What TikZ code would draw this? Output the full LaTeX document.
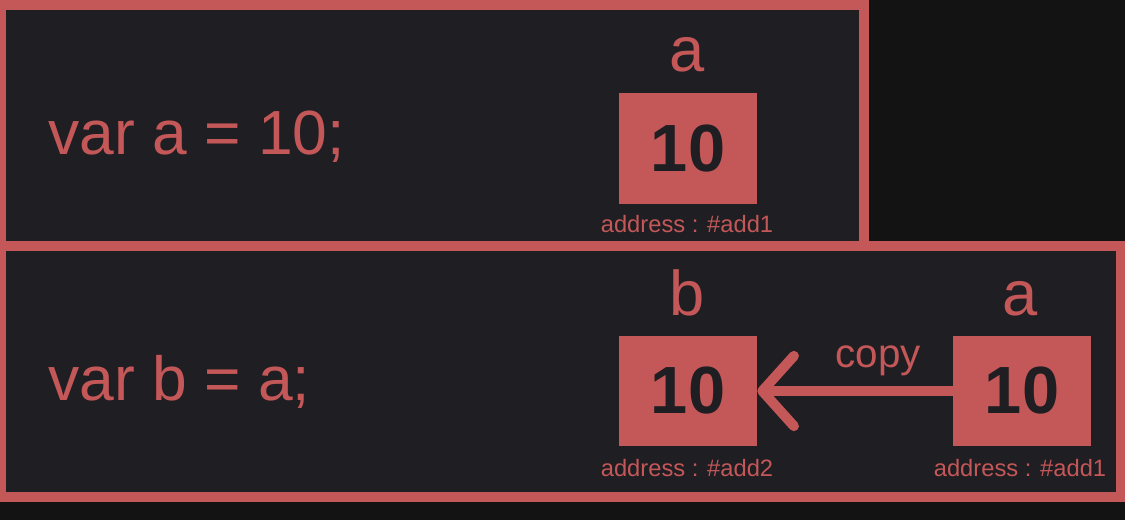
\documentclass[tikz,border=0pt]{standalone}
\usepackage{fontspec}
\setmainfont{Liberation Sans}
\usetikzlibrary{arrows.meta}
\definecolor{memred}{HTML}{C45758}
\definecolor{panelbg}{HTML}{1F1E23}
\definecolor{pagebg}{HTML}{131313}
\tikzset{
  panel/.style={draw=memred, line width=0.19cm, fill=panelbg},
  cell/.style={fill=memred, text=panelbg, minimum width=2.76cm, minimum height=2.22cm, inner sep=0pt, font=\fontsize{38}{40}\selectfont\bfseries},
  code/.style={text=memred, anchor=base west, inner sep=0pt, font=\fontsize{35.5}{40}\selectfont},
  varname/.style={text=memred, anchor=base, inner sep=0pt, font=\fontsize{36}{40}\selectfont},
  addr/.style={text=memred, anchor=base, inner sep=0pt, font=\fontsize{13.5}{15}\selectfont},
}
\begin{document}
\begin{tikzpicture}[x=0.02cm, y=-0.02cm]
\useasboundingbox (0,0) rectangle (1125,520);
\fill[pagebg] (0,0) rectangle (1125,520);
\draw[panel] (1,246) rectangle (1121,497);
\draw[panel] (1,5) rectangle (864,245.5);
% var a
\node[code] (codeA) at (48,155) {var a = 10;};
\node[cell] (cellA) at (688,148.5) {10};
\node[varname] (nameA) at (687,72) {a};
\node[addr] (addrA) at (687,233) {address : \#add1};
% var b
\node[code] (codeB) at (48,400) {var b = a;};
\node[cell] (cellB) at (688,391) {10};
\node[varname] (nameB) at (687,315) {b};
\node[addr] (addrB) at (687,476) {address : \#add2};
\node[cell] (cellC) at (1022,391) {10};
\node[varname] (nameC) at (1020,315) {a};
\node[addr] (addrC) at (1020,476) {address : \#add1};
\draw[memred, line width=0.2cm, -{Straight Barb[length=18pt,width=40pt,round]}] (cellC.west) -- (cellB.east)
  node[pos=.38, anchor=base, yshift=13.6pt, font=\fontsize{23}{26}\selectfont] (copyLbl) {copy};
\end{tikzpicture}
\end{document}
